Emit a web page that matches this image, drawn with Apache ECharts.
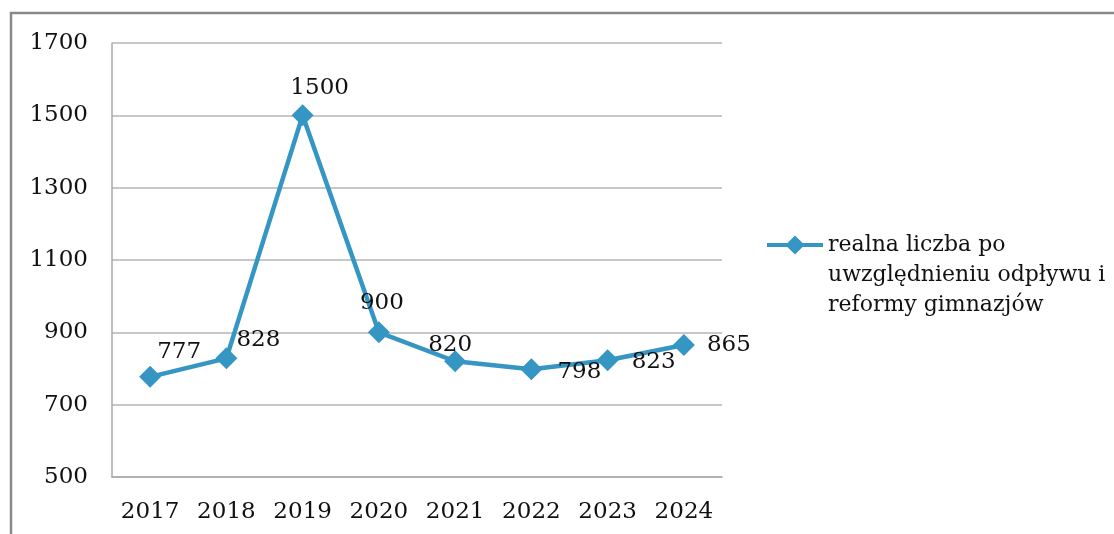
<!DOCTYPE html>
<html>
<head>
<meta charset="utf-8">
<script src="https://cdn.jsdelivr.net/npm/echarts@6/dist/echarts.min.js"></script>
<style>
html,body{margin:0;padding:0;background:#fff;}
#chart{width:1114px;height:534px;}
</style>
</head>
<body>
<div id="chart"></div>
<script>
const categories = ['2017','2018','2019','2020','2021','2022','2023','2024'];
const values = [777, 828, 1500, 900, 820, 798, 823, 865];
const seriesName = 'realna liczba po\nuwzględnieniu odpływu i\nreformy gimnazjów';
const yTicks = [500, 700, 900, 1100, 1300, 1500, 1700];

const labelOffsets = [[29,-25],[32,-18],[17,-27],[3,-29],[-5,-16],[48,3],[46,2],[45,0]];
const FONT = 'DejaVu Serif';
const chart = echarts.init(document.getElementById('chart'));
chart.setOption({
  animation: false,
  backgroundColor: '#fff',
  graphic: [{
    type: 'rect', silent: true, z: -1,
    shape: {x: 11, y: 13, width: 1200, height: 600},
    style: {fill: 'none', stroke: '#8a8a8a', lineWidth: 2.5}
  }],
  grid: {left: 112, top: 43, width: 610, height: 434},
  legend: {
    left: 760, top: 165,
    itemWidth: 56, itemHeight: 24, itemGap: 0,
    data: [seriesName],
    formatter: function (name) { return ' \n \n' + name; },
    lineStyle: {width: 4},
    textStyle: {fontFamily: FONT, fontSize: 22, color: '#111', lineHeight: 30}
  },
  xAxis: {
    type: 'category', data: categories, boundaryGap: true,
    axisLine: {lineStyle: {color: '#aaa', width: 1.5}},
    axisTick: {show: false},
    axisLabel: {fontFamily: FONT, fontSize: 23, color: '#111', margin: 24}
  },
  yAxis: {
    type: 'value', min: yTicks[0], max: yTicks[yTicks.length-1], interval: 200,
    axisLine: {show: true, lineStyle: {color: '#aaa', width: 1.5}},
    axisTick: {show: false},
    splitLine: {lineStyle: {color: '#b5b5b5', width: 1.5}},
    axisLabel: {fontFamily: FONT, fontSize: 23, color: '#111', margin: 24, formatter: function (v) { return String(v); }}
  },
  series: [{
    name: seriesName, type: 'line',
    data: values.map((v, i) => ({value: v, label: {offset: labelOffsets[i]}})),
    symbol: 'diamond', symbolSize: 22,
    lineStyle: {color: '#3596c3', width: 4.5},
    itemStyle: {color: '#3596c3'},
    label: {show: true, position: 'inside', fontFamily: FONT, fontSize: 23, color: '#111'}
  }]
});
</script>
</body>
</html>
